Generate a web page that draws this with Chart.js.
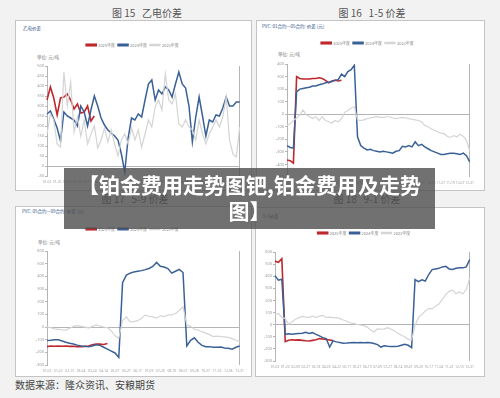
<!DOCTYPE html>
<html>
<head>
<meta charset="utf-8">
<title>铂金费用走势图</title>
<script src="https://cdn.jsdelivr.net/npm/chart.js"></script>
<style>
    body { margin: 0; width: 500px; height: 398px; background: #f2f2f2; position: relative; overflow: hidden;
           font-family: 'Noto Sans CJK SC', 'Noto Sans', sans-serif; }
    .panel { position: absolute; box-sizing: border-box; background: #fff; border: 1px solid #c4c4c4; }
    .cap { position: absolute; font-size: 10px; color: #555; text-align: center; white-space: pre; line-height: 12px; }
    .tiny { position: absolute; font-size: 4.5px; line-height: 6px; white-space: nowrap; }
    .blue { color: #2d4f8a; }
    .unit { color: #777; }
    canvas { position: absolute; }
    #src { position: absolute; left: 15px; top: 379px; font-size: 10px; line-height: 12px; color: #444; }
    #banner { position: absolute; left: 64px; top: 168px; width: 371px; height: 61px; box-sizing: border-box;
              padding-top: 3px; background: rgba(78, 78, 78, 0.8); color: #fff; text-align: center;
              font-weight: 700; font-size: 21px; line-height: 26px; white-space: nowrap; }
</style>
</head>
<body>
<div class="panel" style="left:15px;top:20px;width:237px;height:171px"></div>
<div class="panel" style="left:256px;top:20px;width:229px;height:171px"></div>
<div class="panel" style="left:15px;top:206px;width:237px;height:171px"></div>
<div class="panel" style="left:255px;top:207px;width:230px;height:170px"></div>

<div class="cap" style="left:92px;top:7px;width:110px">图 15   乙电价差</div>
<div class="cap" style="left:317px;top:7px;width:110px">图 16   1-5 价差</div>
<div class="cap" style="left:80px;top:193px;width:110px">图 17   5-9 价差</div>
<div class="cap" style="left:312px;top:193px;width:110px">图 18   9-1 价差</div>

<div class="tiny blue" style="left:23px;top:25px">乙电价差</div>
<div class="tiny blue" style="left:262px;top:23px">PVC: 01合约—05合约: 价差 (元)</div>
<div class="tiny blue" style="left:22px;top:208px">PVC: 05合约—09合约: 价差 (元)</div>
<div class="tiny blue" style="left:263px;top:213px">9-1价差</div>
<div class="tiny unit" style="left:37px;top:54px">单位: 元/吨</div>
<div class="tiny unit" style="left:278px;top:51px">单位: 元/吨</div>
<div class="tiny unit" style="left:38px;top:239px">单位: 元/吨</div>

<canvas id="c15" width="226" height="146" style="left:22px;top:40px"></canvas>
<canvas id="c16" width="216" height="149" style="left:262px;top:38px"></canvas>
<canvas id="c17" width="226" height="151" style="left:22px;top:224px"></canvas>
<canvas id="c18" width="223" height="143" style="left:255px;top:228px"></canvas>

<div id="src">数据来源：隆众资讯、安粮期货</div>
<div id="banner">【铂金费用走势图钯,铂金费用及走势<br>图】</div>

<script>
const seriesNames = ['2025年度', '2024年度', '2023年度'];

// 图15 乙电价差
const ticks15 = ['01-02', '01-20', '02-07', '02-25', '03-15', '04-02', '04-20', '05-08', '05-26', '06-13',
    '07-01', '07-19', '08-06', '08-24', '09-11', '09-29', '10-17', '11-04', '11-22', '12-10'];
const y2025_15 = [330, 395, 340, 255, 340, 345, 360, 330, 285, 310, 265, 270, 300, 225, 250];
const y2024_15 = [260, 275, 235, 190, 125, 270, 250, 240, 230, 200, 300, 270, 200, 280, 350, 300, 240, 205, 180, 165,
    150, 130, 60, -30, 140, 240, 230, 260, 245, 330, 410, 430, 330, 380, 360, 395, 380, 345, 410, 470,
    410, 390, 300, 120, 245, 345, 250, 150, 230, 220, 255, 250, 290, 345, 300, 300, 320, 320];
const y2023_15 = [160, 260, 230, 110, 95, 470, 300, 420, 170, 245, 150, 230, 110, 160, 200, 90, 130, 190, 120, 180,
    110, 50, 130, 160, 110, 190, 130, 180, 95, 160, 230, 195, 295, 330, 280, 460, 330, 310, 360, 210,
    195, 230, 195, 180, 130, 230, 160, 110, 160, 195, 230, 195, 245, 345, 130, 60, 45, 195];

// 图16 1-5价差
const ticks16 = ['01-02', '01-22', '02-09', '02-28', '03-19', '04-09', '04-26', '05-16', '06-04', '06-21',
    '07-10', '07-29', '08-15', '09-03', '09-21', '10-15', '11-01', '11-19', '12-07', '12-31'];
const y2025_16 = [-365, -370, -390, 300, 285, 280, 280, 280, 285, 285, 290, 285, 270, 250, 265, 270, 265, 270];
const y2024_16 = [-250, -265, -270, 180, 200, 205, 210, 215, 225, 225, 235, 240, 250, 255, 260, 270, 275, 320, 300, 340,
    355, 390, -180, -250, -270, -285, -280, -290, -295, -300, -295, -300, -305, -310, -295, -290, -255, -260, -250, -260,
    -220, -250, -240, -260, -275, -290, -300, -310, -320, -320, -315, -310, -310, -315, -320, -310, -330, -380];
const y2023_16 = [-90, -75, -50, -30, -5, 35, -5, -20, -35, -20, -50, -20, -50, -60, -70, -50, -60, -35, 15, 30,
    50, 60, -45, -50, -45, -35, -30, -25, -20, -25, -25, -20, -20, -30, -35, -30, -25, -30, -35, -40,
    -45, -50, -60, -90, -100, -115, -130, -140, -150, -155, -175, -185, -170, -180, -160, -175, -210, -290];

// 图17 5-9价差
const ticks17 = ['01-02', '01-22', '02-13', '03-04', '03-24', '04-14', '05-07', '05-27', '06-17', '07-09',
    '07-29', '08-19', '09-07', '09-28', '10-27', '11-16', '12-06', '12-31'];
const y2025_17 = [-155, -150, -152, -150, -152, -150, -153, -152, -155, -155, -153, -150, -140, -135, -135, -138, -130];
const y2024_17 = [-107, -105, -100, -100, -110, -120, -128, -134, -143, -150, -152, -155, -150, -141, -145, -160, -175, -190, -205, -240,
    350, 410, 425, 435, 440, 445, 453, 462, 478, 510, 480, 474, 461, 425, 440, 455, 430, -150, -105, -85,
    -120, -145, -155, -155, -160, -160, -158, -165, -168, -175, -160, -150];
const y2023_17 = [0, -5, -15, -18, -22, -24, -10, 5, 10, 5, 0, -8, 5, 16, 8, 0, -5, -30, -70, -89,
    50, 80, 40, 42, 50, 68, 94, 85, 80, 70, 90, 82, 94, 95, 107, 130, 160, 15, 5, -18,
    -24, -37, -48, -60, -76, -72, -76, -78, -82, -92, -105, -115];

// 图18 9-1价差
const ticks18 = ['01-02', '01-20', '02-09', '02-27', '03-18', '04-05', '04-22', '05-11', '05-31', '06-19',
    '07-09', '07-27', '08-14', '09-01', '09-20', '10-17', '11-04', '11-22', '12-10', '12-31'];
const y2025_18 = [523, 515, 545, -140, -128, -125, -128, -126, -130, -133, -135, -130, -125, -115, -118, -122, -126, -132];
const y2024_18 = [405, 367, 375, -80, -75, -80, -75, -72, -70, -62, -72, -66, -80, -93, -107, -115, -185, -134, -142, -148,
    -153, -152, -150, -148, -150, -148, -150, -148, -150, -155, -165, -185, -175, -178, -180, -181, -178, -170, -162, -170,
    -189, 372, 355, 370, 360, 414, 455, 460, 465, 477, 482, 460, 455, 465, 470, 469, 477, 537];
const y2023_18 = [85, 93, 60, 50, 3, 25, 45, 58, 68, 63, 60, 71, 58, 71, 77, 60, 63, 58, 58, 50,
    38, 28, 16, 10, 3, -3, -8, -20, -45, -60, -35, -38, -35, -25, -38, -52, -70, -88, -99, -121,
    -126, -5, 58, 85, 112, 135, 130, 155, 170, 210, 250, 275, 285, 255, 270, 255, 290, 386];

const RED = '#c0272d';
const BLUE = '#3a6197';
const GRAY = '#d4d4d4';
const AXIS = '#b5b5b5';

// three category slots between two tick labels
function categories(ticks) {
    const out = [];
    ticks.forEach((t, i) => {
        out.push(t);
        if (i < ticks.length - 1) out.push('', '');
    });
    return out;
}

function makeChart(id, ticks, s2025, s2024, s2023, yMin, yMax, yStep, yWidth, gap) {
    const labels = categories(ticks);
    const n = labels.length;
    const legendGap = {
        id: 'legendGap',
        beforeInit(chart) {
            const fit = chart.legend.fit;
            chart.legend.fit = function () {
                fit.call(this);
                this.height += gap;
            };
        }
    };
    const line = (label, data, color, width) => ({
        label: label,
        data: data,
        borderColor: color,
        backgroundColor: color,
        borderWidth: width,
        pointRadius: 0,
        tension: 0,
    });
    return new Chart(document.getElementById(id), {
        type: 'line',
        data: {
            labels: labels,
            datasets: [
                line(seriesNames[2], s2023, GRAY, 1.2),
                line(seriesNames[1], s2024, BLUE, 1.5),
                line(seriesNames[0], s2025, RED, 1.6),
            ],
        },
        options: {
            responsive: false,
            animation: false,
            devicePixelRatio: 1,
            layout: { padding: { right: 5 } },
            plugins: {
                legend: {
                    position: 'top',
                    reverse: true,
                    labels: {
                        boxWidth: 10,
                        boxHeight: 1.5,
                        padding: 3,
                        color: '#888',
                        font: { size: 4, family: 'Noto Sans CJK SC' },
                    },
                },
                tooltip: { enabled: false },
            },
            scales: {
                x: {
                    afterFit(scale) { scale.height = 10; },
                    border: { display: false },
                    grid: {
                        drawTicks: false,
                        color: (c) => c.index === n - 1 ? AXIS : 'rgba(0,0,0,0)',
                    },
                    ticks: {
                        autoSkip: false,
                        maxRotation: 0,
                        minRotation: 0,
                        padding: 4,
                        color: '#a0a0a0',
                        font: { size: 3.3, family: 'Noto Sans' },
                    },
                },
                y: {
                    min: yMin,
                    max: yMax,
                    afterFit(scale) { scale.width = yWidth; },
                    border: { display: true, color: AXIS },
                    grid: {
                        color: (c) => c.tick && c.tick.value === 0 ? AXIS : 'rgba(0,0,0,0)',
                        tickColor: AXIS,
                        tickLength: 2,
                    },
                    ticks: {
                        stepSize: yStep,
                        padding: 1,
                        color: '#9a9a9a',
                        font: { size: 4, family: 'Noto Sans' },
                    },
                },
            },
        },
        plugins: [legendGap],
    });
}

makeChart('c15', ticks15, y2025_15, y2024_15, y2023_15, -50, 500, 50, 25, 9);
makeChart('c16', ticks16, y2025_16, y2024_16, y2023_16, -500, 400, 100, 25, 9);
makeChart('c17', ticks17, y2025_17, y2024_17, y2023_17, -300, 600, 100, 25, 10);
makeChart('c18', ticks18, y2025_18, y2024_18, y2023_18, -300, 600, 100, 20, 7);
</script>
</body>
</html>
